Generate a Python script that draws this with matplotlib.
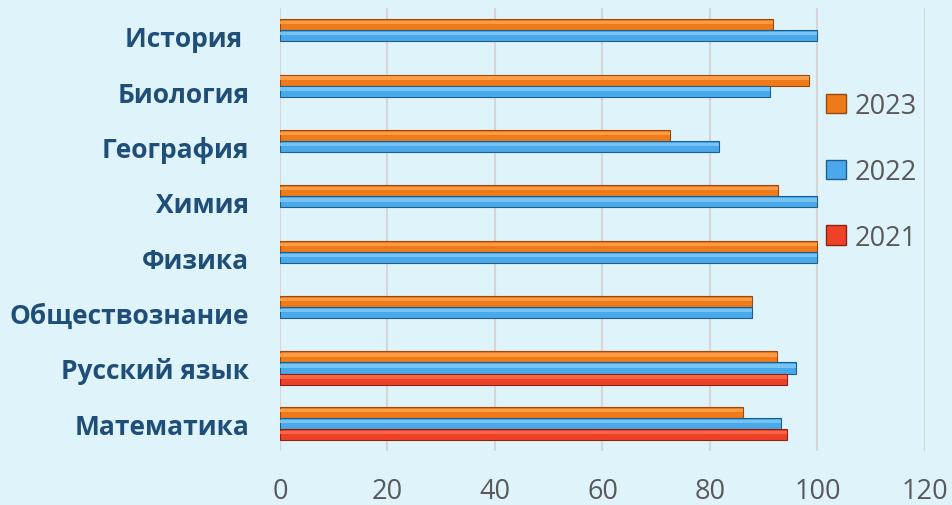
"""Horizontal grouped bars: subject results by year."""

import numpy as np
import matplotlib.pyplot as plt
from matplotlib.patches import Patch

subjects = ['Математика', 'Русский язык', 'Обществознание', 'Физика',
            'Химия', 'География', 'Биология', 'История ']
years = ['2023', '2022', '2021']
vals_2023 = [86.2, 92.5, 87.9, 100, 92.6, 72.6, 98.5, 91.7]
vals_2022 = [93.2, 96.0, 87.9, 100, 100, 81.6, 91.1, 100]
vals_2021 = [94.4, 94.4, 0, 0, 0, 0, 0, 0]

colors = {'2023': '#ef7a1a', '2022': '#4aa9ea', '2021': '#ee4226'}
edges = {'2023': '#9a4a0c', '2022': '#1f5f8f', '2021': '#8c2214'}
light = {'2023': '#ffa04a', '2022': '#7cc6f6', '2021': '#ff6a4a'}

bg = '#dff3fa'
plt.rcParams['font.family'] = ['Open Sans', 'DejaVu Sans']

fig = plt.figure(figsize=(9.53, 5.06), dpi=100, facecolor=bg)
ax = fig.add_axes([0.2938, 0.1067, 0.6768, 0.8753])
ax.set_facecolor(bg)

y = np.arange(len(subjects))
h = 0.2
series = [('2023', vals_2023, h), ('2022', vals_2022, 0), ('2021', vals_2021, -h)]
for name, vals, off in series:
    vals = np.array(vals, dtype=float)
    keep = vals > 0
    ax.barh(y[keep] + off, vals[keep], height=h, color=colors[name],
            edgecolor=edges[name], linewidth=0.8, zorder=3)
    # bevel highlight
    ax.barh(y[keep] + off + h * 0.18, vals[keep], height=h * 0.3,
            color=light[name], linewidth=0, zorder=4, alpha=0.9)

ax.set_xlim(0, 120)
ax.set_ylim(-0.5, len(subjects) - 0.5)
ax.set_xticks(np.arange(0, 121, 20))
ax.xaxis.grid(True, color='#d6d6d6', linewidth=1.5, zorder=0)
ax.tick_params(axis='x', length=0, pad=19, labelsize=19.5, labelcolor='#595959')
ax.tick_params(axis='y', length=0, pad=22)
ax.set_yticks(y)
ax.set_yticklabels(subjects, fontsize=19, fontweight='bold', color='#1f4e79')
for s in ax.spines.values():
    s.set_visible(False)

handles = [Patch(facecolor=colors[n], edgecolor=edges[n], label=n) for n in years]
ax.legend(handles=handles, loc='upper left', bbox_to_anchor=(0.83, 0.835),
          frameon=False, fontsize=19.5, labelcolor='#595959', handlelength=0.75,
          handleheight=0.75, handletextpad=0.3, labelspacing=1.4, borderaxespad=0)

fig.savefig('out.png', dpi=100, facecolor=bg)
